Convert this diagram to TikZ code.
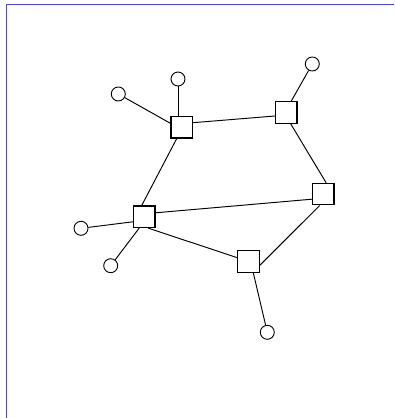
\documentclass[tikz,border=0pt]{standalone}
\usetikzlibrary{positioning}
\definecolor{frameblue}{RGB}{75,75,215}
\tikzset{
  hub/.style={rectangle,draw,line width=1.1pt,minimum size=21.5pt,inner sep=0pt,fill=white},
  leaf/.style={circle,draw,line width=0.9pt,minimum size=14pt,inner sep=0pt,fill=white},
  link/.style={line width=0.95pt}
}
\begin{document}
\begin{tikzpicture}[x=1pt,y=1pt]
            \useasboundingbox (0,0) rectangle (394,418);
            \draw[frameblue,line width=1.9pt] (6.5,0) -- (6.5,413.5) -- (394,413.5);
            \node[hub] (S1) at (181.7,290.7){};
            \node[hub] (S2) at (286.2,305.5){};
            \node[hub] (S3) at (323.2,223.8){};
            \node[hub] (S4) at (144.2,201.2){};
            \node[hub] (S5) at (248.5,156.5){};
            \node[leaf] (C1) at (118.3,324){};
            \node[leaf] (C2) at (178,339){};
            \node[leaf] (C3) at (312.3,354){};
            \node[leaf] (C4) at (81,189.7){};
            \node[leaf] (C5) at (110.7,152.3){};
            \node[leaf] (C6) at (267.3,85.7){};
            % square to square
            \draw[link] ([yshift=4.6pt]S1.east)--([yshift=-3.5pt]S2.west);
            \draw[link] ([xshift=-5pt]S1.south)--([xshift=-2.5pt]S4.north);
            \draw[link] ([xshift=4.5pt]S2.south)--([xshift=3pt]S3.north);
            \draw[link] ([yshift=-5pt]S3.west)--([yshift=4pt]S4.east);
            \draw[link] ([xshift=-3.5pt]S3.south)--([yshift=-3.8pt]S5.east);
            \draw[link] ([xshift=4pt]S4.south)--([yshift=3.8pt]S5.west);
            % leaves
            \draw[link] (C1)--([yshift=4pt]S1.west);
            \draw[link] (C2)--([xshift=-3.7pt]S1.north);
            \draw[link] (C3)--([xshift=5pt]S2.north);
            \draw[link] (C4)--([yshift=-5pt]S4.west);
            \draw[link] (C5)--([xshift=-5pt]S4.south);
            \draw[link] (C6)--([xshift=4.8pt]S5.south);
        \end{tikzpicture}
\end{document}
